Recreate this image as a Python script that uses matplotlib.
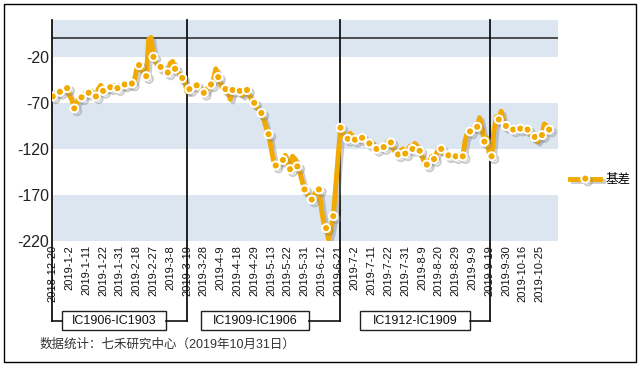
import matplotlib
matplotlib.use("Agg")
import matplotlib.pyplot as plt
import matplotlib.patheffects as pe
from matplotlib.lines import Line2D
from matplotlib.patches import Rectangle
from matplotlib.transforms import blended_transform_factory

plt.rcParams['font.family'] = ['Liberation Sans', 'Noto Sans CJK SC']
plt.rcParams['axes.unicode_minus'] = False

# x-axis labels, one every 7 trading days
tick_labels = ["2018-12-20", "2019-1-2", "2019-1-11", "2019-1-22", "2019-1-31",
               "2019-2-18", "2019-2-27", "2019-3-8", "2019-3-19", "2019-3-28",
               "2019-4-9", "2019-4-18", "2019-4-29", "2019-5-13", "2019-5-22",
               "2019-5-31", "2019-6-12", "2019-6-21", "2019-7-2", "2019-7-11",
               "2019-7-22", "2019-7-31", "2019-8-9", "2019-8-20", "2019-8-29",
               "2019-9-9", "2019-9-19", "2019-9-30", "2019-10-16", "2019-10-25"]

# daily basis
basis = [-63, -60, -60, -58, -57, -55, -54, -62, -67, -76,
         -70, -65, -64, -62, -58, -59, -57, -60, -63, -55,
         -51, -57, -55, -54, -53, -51, -52, -54, -51, -52,
         -50, -50, -51, -49, -46, -33, -29, -33, -40, -41,
         -1, 1, -20, -26, -30, -31, -34, -37, -37, -27,
         -25, -33, -36, -40, -43, -46, -58, -55, -53, -52,
         -51, -52, -56, -59, -57, -52, -50, -45, -33, -42,
         -50, -55, -55, -58, -66, -56, -57, -55, -57, -62,
         -58, -56, -62, -67, -70, -74, -78, -81, -88, -97,
         -104, -118, -132, -138, -136, -133, -132, -127, -135, -142,
         -128, -131, -139, -145, -155, -164, -168, -172, -175, -170,
         -165, -164, -185, -200, -206, -218, -207, -193, -160, -128,
         -97, -104, -109, -109, -103, -106, -110, -109, -107, -108,
         -110, -112, -114, -112, -117, -120, -118, -117, -118, -115,
         -111, -113, -120, -124, -126, -122, -120, -125, -121, -117,
         -120, -114, -117, -122, -128, -135, -137, -134, -128, -131,
         -125, -119, -120, -125, -126, -127, -128, -127, -128, -126,
         -128, -128, -110, -102, -101, -98, -97, -96, -86, -98,
         -112, -108, -125, -128, -100, -85, -88, -79, -92, -95,
         -96, -98, -99, -97, -98, -98, -99, -98, -99, -103,
         -108, -107, -112, -108, -105, -93, -95, -99]

spreads = ["IC1906-IC1903", "IC1909-IC1906", "IC1912-IC1909"]
roll_days = [56, 120, 182.5]

W, H = 640, 365
def fy(y):
    return 1 - y / H

fig = plt.figure(figsize=(6.4, 3.65), dpi=100)
ax = fig.add_axes([52 / W, fy(241), 506 / W, 221 / H])

for lo in (-220, -120, -20):
    ax.axhspan(lo, lo + 50, color='#dce6f1', lw=0, zorder=0)
ax.axhline(0, color='#222222', lw=1.1, zorder=2)

line, = ax.plot(range(len(basis)), basis, color='#f2a900', lw=3.5,
                marker='o', ms=5.8, mfc='#f2a900', mec='white', mew=1.4,
                markevery=3, label='基差', zorder=3, solid_joinstyle='round',
                path_effects=[pe.SimpleLineShadow(offset=(2, -2), shadow_color='gray', alpha=0.4),
                              pe.Normal()])

ax.set_xlim(-0.3, 210.7)
ax.set_ylim(-220, 20)
ax.set_yticks([-220, -170, -120, -70, -20])
ax.set_xticks(range(0, 7 * len(tick_labels), 7))
ax.set_xticklabels(tick_labels, rotation=90, fontsize=8)
for s in ax.spines.values():
    s.set_visible(False)
ax.tick_params(axis='y', length=0, pad=2, labelsize=11.5, colors='#222222')
ax.tick_params(axis='x', length=0, pad=3, colors='#111111')

# contract roll brackets below the chart
tr = blended_transform_factory(ax.transData, fig.transFigure)
y_top, y_mid = fy(20), fy(320.5)
verticals = [-0.3] + roll_days
for xv in verticals:
    ax.add_line(Line2D([xv, xv], [y_top, y_mid], transform=tr, color='#111111',
                       lw=1.3, clip_on=False, zorder=2))

boxes = [(3.75, 47.2), (61.8, 106.9), (128.1, 174.0)]
for (x0, x1), name, rd in zip(boxes, spreads, roll_days):
    ax.add_patch(Rectangle((x0, fy(330)), x1 - x0, 19 / H, transform=tr,
                           fill=True, fc='white', ec='#222222', lw=1, clip_on=False))
    ax.text((x0 + x1) / 2, y_mid, name, transform=tr, ha='center', va='center',
            fontsize=9, color='#111111')
    ax.add_line(Line2D([x1, rd], [y_mid, y_mid], transform=tr, color='#111111',
                       lw=1.2, clip_on=False))
ax.add_line(Line2D([-0.3, boxes[0][0]], [y_mid, y_mid], transform=tr, color='#111111',
                   lw=1.2, clip_on=False))

fig.text(40 / W, fy(345), '数据统计：七禾研究中心（2019年10月31日）', fontsize=9,
         va='center', color='#333333')

ax.legend(handles=[line], loc='center left', bbox_to_anchor=(564 / W, fy(180)),
          bbox_transform=fig.transFigure, frameon=False, handlelength=2.4,
          fontsize=9, borderpad=0, handletextpad=0.4)

fig.add_artist(Rectangle((3.5 / W, 3.5 / H), 632.5 / W, 358 / H, transform=fig.transFigure,
                         fill=False, ec='black', lw=1))

fig.savefig('out.png', dpi=100)
